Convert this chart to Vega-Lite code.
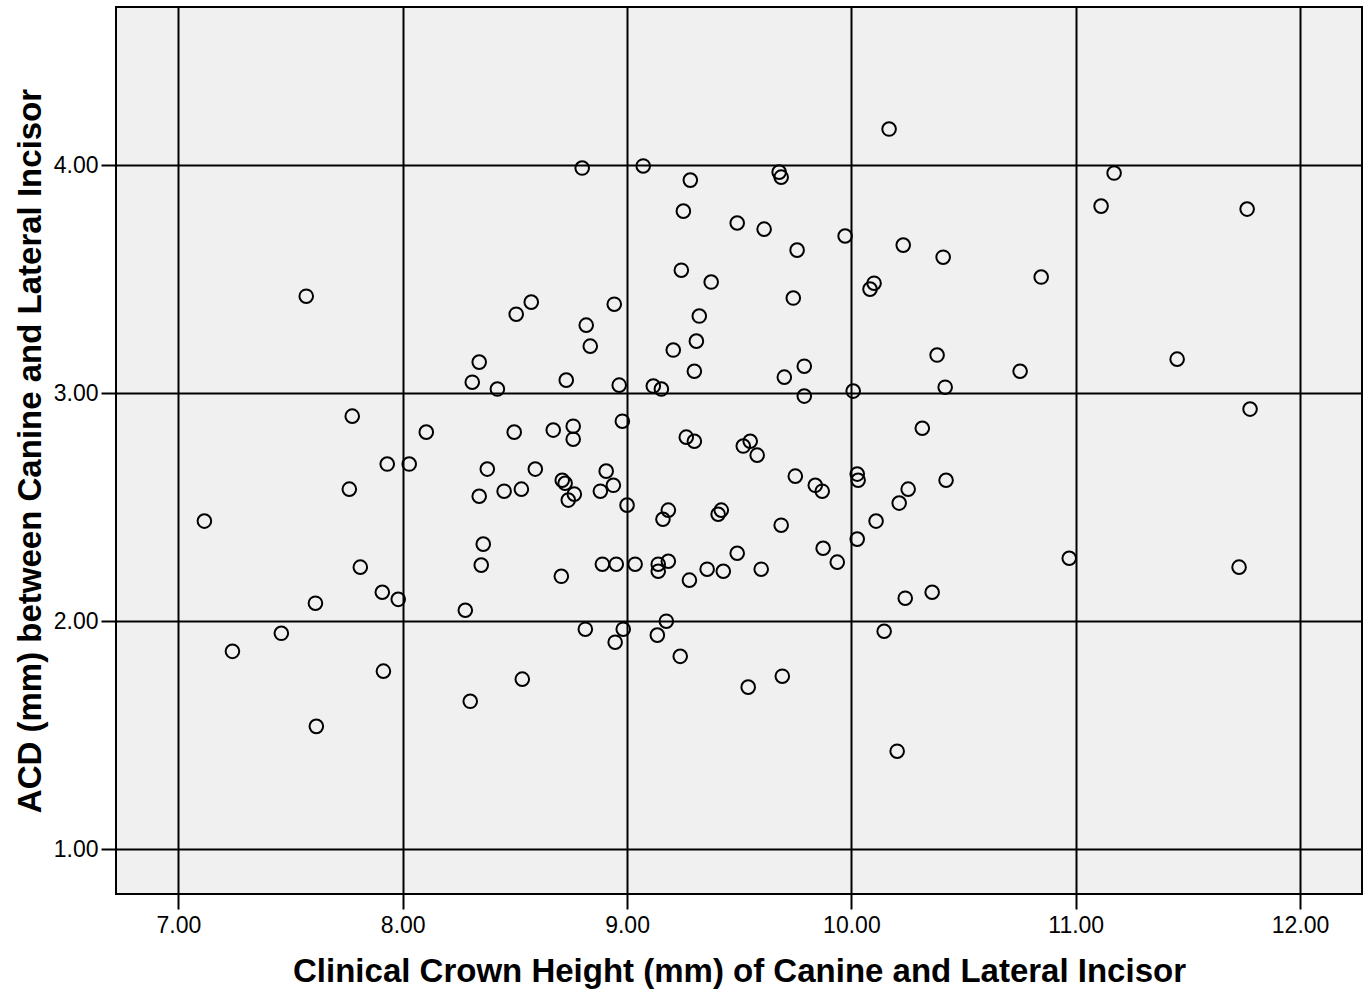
{
  "$schema": "https://vega.github.io/schema/vega-lite/v6.json",
  "autosize": {"type": "none"},
  "padding": {"left": 116, "top": 7, "right": 10, "bottom": 96},
  "width": 1246,
  "height": 887,
  "background": "white",
  "config": {
    "view": {"fill": "#f0f0f0", "stroke": "black", "strokeWidth": 2},
    "axis": {
      "grid": true, "gridColor": "black", "gridWidth": 2, "gridOpacity": 1,
      "domain": false,
      "tickColor": "black", "tickWidth": 2, "tickSize": 15,
      "labelFont": "Liberation Sans", "labelFontSize": 23, "labelColor": "black",
      "titleFont": "Liberation Sans", "titleFontSize": 33, "titleFontWeight": "bold", "titleColor": "black"
    }
  },
  "data": {"values": [
    {"x": 7.116, "y": 2.439}, {"x": 7.241, "y": 1.868}, {"x": 7.459, "y": 1.947}, {"x": 7.570, "y": 3.425},
    {"x": 7.611, "y": 2.079}, {"x": 7.615, "y": 1.539}, {"x": 7.762, "y": 2.579}, {"x": 7.775, "y": 2.899},
    {"x": 7.811, "y": 2.237}, {"x": 7.909, "y": 2.127}, {"x": 7.914, "y": 1.781}, {"x": 7.931, "y": 2.689},
    {"x": 7.980, "y": 2.096}, {"x": 8.029, "y": 2.689}, {"x": 8.105, "y": 2.829}, {"x": 8.279, "y": 2.048},
    {"x": 8.301, "y": 1.649}, {"x": 8.310, "y": 3.048}, {"x": 8.341, "y": 3.136}, {"x": 8.341, "y": 2.548},
    {"x": 8.350, "y": 2.246}, {"x": 8.359, "y": 2.338}, {"x": 8.377, "y": 2.667}, {"x": 8.422, "y": 3.018},
    {"x": 8.452, "y": 2.570}, {"x": 8.497, "y": 2.829}, {"x": 8.506, "y": 3.346}, {"x": 8.529, "y": 2.579},
    {"x": 8.533, "y": 1.746}, {"x": 8.573, "y": 3.399}, {"x": 8.591, "y": 2.667}, {"x": 8.671, "y": 2.838},
    {"x": 8.707, "y": 2.197}, {"x": 8.711, "y": 2.618}, {"x": 8.729, "y": 3.057}, {"x": 8.724, "y": 2.605},
    {"x": 8.738, "y": 2.531}, {"x": 8.760, "y": 2.855}, {"x": 8.760, "y": 2.798}, {"x": 8.765, "y": 2.557},
    {"x": 8.800, "y": 3.987}, {"x": 8.814, "y": 1.965}, {"x": 8.818, "y": 3.298}, {"x": 8.836, "y": 3.206},
    {"x": 8.881, "y": 2.570}, {"x": 8.890, "y": 2.250}, {"x": 8.907, "y": 2.658}, {"x": 8.939, "y": 2.596},
    {"x": 8.943, "y": 3.390}, {"x": 8.947, "y": 1.908}, {"x": 8.952, "y": 2.250}, {"x": 8.965, "y": 3.035},
    {"x": 8.979, "y": 2.877}, {"x": 8.983, "y": 1.965}, {"x": 9.000, "y": 2.509}, {"x": 9.036, "y": 2.250},
    {"x": 9.072, "y": 3.996}, {"x": 9.117, "y": 3.031}, {"x": 9.135, "y": 1.939}, {"x": 9.139, "y": 2.250},
    {"x": 9.139, "y": 2.219}, {"x": 9.153, "y": 3.018}, {"x": 9.160, "y": 2.447}, {"x": 9.175, "y": 2.000},
    {"x": 9.184, "y": 2.487}, {"x": 9.184, "y": 2.263}, {"x": 9.206, "y": 3.189}, {"x": 9.237, "y": 1.846},
    {"x": 9.242, "y": 3.539}, {"x": 9.251, "y": 3.798}, {"x": 9.264, "y": 2.807}, {"x": 9.278, "y": 2.180},
    {"x": 9.282, "y": 3.934}, {"x": 9.300, "y": 2.789}, {"x": 9.300, "y": 3.096}, {"x": 9.309, "y": 3.228},
    {"x": 9.322, "y": 3.338}, {"x": 9.357, "y": 2.228}, {"x": 9.375, "y": 3.487}, {"x": 9.406, "y": 2.469},
    {"x": 9.420, "y": 2.487}, {"x": 9.429, "y": 2.219}, {"x": 9.491, "y": 3.746}, {"x": 9.491, "y": 2.298},
    {"x": 9.518, "y": 2.768}, {"x": 9.540, "y": 1.711}, {"x": 9.549, "y": 2.789}, {"x": 9.580, "y": 2.728},
    {"x": 9.598, "y": 2.228}, {"x": 9.611, "y": 3.719}, {"x": 9.678, "y": 3.969}, {"x": 9.687, "y": 3.947},
    {"x": 9.687, "y": 2.421}, {"x": 9.692, "y": 1.759}, {"x": 9.701, "y": 3.070}, {"x": 9.741, "y": 3.417},
    {"x": 9.750, "y": 2.636}, {"x": 9.758, "y": 3.627}, {"x": 9.790, "y": 3.118}, {"x": 9.790, "y": 2.987},
    {"x": 9.839, "y": 2.596}, {"x": 9.870, "y": 2.570}, {"x": 9.874, "y": 2.320}, {"x": 9.937, "y": 2.259},
    {"x": 9.972, "y": 3.689}, {"x": 10.008, "y": 3.009}, {"x": 10.026, "y": 2.360}, {"x": 10.026, "y": 2.645},
    {"x": 10.030, "y": 2.618}, {"x": 10.083, "y": 3.456}, {"x": 10.101, "y": 3.482}, {"x": 10.110, "y": 2.439},
    {"x": 10.146, "y": 1.956}, {"x": 10.168, "y": 4.158}, {"x": 10.204, "y": 1.430}, {"x": 10.213, "y": 2.518},
    {"x": 10.231, "y": 3.649}, {"x": 10.240, "y": 2.101}, {"x": 10.253, "y": 2.579}, {"x": 10.316, "y": 2.846},
    {"x": 10.360, "y": 2.127}, {"x": 10.382, "y": 3.167}, {"x": 10.409, "y": 3.596}, {"x": 10.418, "y": 3.026},
    {"x": 10.422, "y": 2.618}, {"x": 10.752, "y": 3.096}, {"x": 10.846, "y": 3.509}, {"x": 10.971, "y": 2.276},
    {"x": 11.113, "y": 3.820}, {"x": 11.171, "y": 3.965}, {"x": 11.452, "y": 3.149}, {"x": 11.728, "y": 2.237},
    {"x": 11.764, "y": 3.807}, {"x": 11.777, "y": 2.930}
  ]},
  "mark": {"type": "point", "shape": "circle", "filled": false, "stroke": "black", "strokeWidth": 2, "size": 185, "opacity": 1},
  "encoding": {
    "x": {
      "field": "x", "type": "quantitative",
      "scale": {"domain": [6.722, 12.276], "nice": false, "zero": false},
      "axis": {
        "values": [7, 8, 9, 10, 11, 12], "format": ".2f",
        "labelPadding": 5,
        "title": "Clinical Crown Height (mm) of Canine and Lateral Incisor",
        "titleBaseline": "alphabetic", "titleY": 87, "titleX": 623, "titleAlign": "center"
      }
    },
    "y": {
      "field": "y", "type": "quantitative",
      "scale": {"domain": [0.804, 4.693], "nice": false, "zero": false},
      "axis": {
        "values": [1, 2, 3, 4], "format": ".2f",
        "labelPadding": 3,
        "title": "ACD (mm) between Canine and Lateral Incisor",
        "titleAngle": 270, "titleBaseline": "alphabetic", "titleAlign": "center",
        "titleX": -76, "titleY": 443.5
      }
    }
  }
}
